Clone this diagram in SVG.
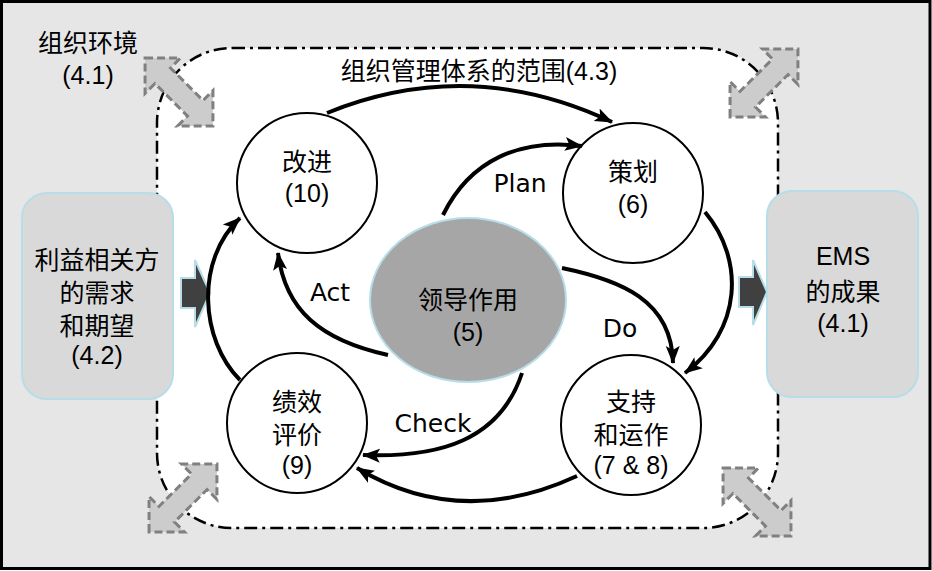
<svg xmlns="http://www.w3.org/2000/svg" width="932" height="571" viewBox="0 0 932 571">
<style>
text{font-family:"Liberation Sans","Noto Sans CJK SC",sans-serif;font-size:25px;fill:#000;text-anchor:middle;dominant-baseline:central}
.pdca{font-family:"DejaVu Sans",sans-serif;font-size:25px}
.node{fill:#fff;stroke:#000;stroke-width:2}
.side{fill:#d9d9d9;stroke:#b7dde8;stroke-width:2}
.conn{fill:none;stroke:#000;stroke-width:4}
.carrow{fill:#cccccc;stroke:#808080;stroke-width:3;stroke-dasharray:8 4}
.block{fill:#404040;stroke:#b7dde8;stroke-width:2}
</style>
<defs>
<marker id="ah" markerUnits="userSpaceOnUse" markerWidth="20" markerHeight="16" refX="17" refY="8" orient="auto">
<path d="M0,1 L18,8 L0,15 L4,8 Z" fill="#000"/>
</marker>
<polygon id="dbl" points="-48,0 -23,-25 -23,-11 23,-11 23,-25 48,0 23,25 23,11 -23,11 -23,25"/>
</defs>
<g id="background">
<rect x="1.5" y="1.5" width="928.5" height="567" fill="#e6e6e6" stroke="#000" stroke-width="3"/>
</g>
<g id="scope">
<rect x="157" y="48" width="621" height="480" rx="75" ry="75" fill="#fff" stroke="#000" stroke-width="2.5" stroke-dasharray="13 5 3 5"/>
<text x="479" y="71">组织管理体系的范围(4.3)</text>
</g>
<g id="context-label">
<text x="88" y="43">组织环境</text>
<text x="88" y="75">(4.1)</text>
</g>
<g id="corner-arrows">
<use href="#dbl" class="carrow" transform="translate(179,92) rotate(45)"/>
<use href="#dbl" class="carrow" transform="translate(764,83) rotate(-45)"/>
<use href="#dbl" class="carrow" transform="translate(183,498) rotate(-45)"/>
<use href="#dbl" class="carrow" transform="translate(757,502) rotate(45)"/>
</g>
<g id="stakeholders">
<rect class="side" x="22" y="193" width="151" height="206" rx="25" ry="25"/>
<text x="97" y="260">利益相关方</text>
<text x="97" y="293">的需求</text>
<text x="97" y="326">和期望</text>
<text x="97" y="355">(4.2)</text>
</g>
<g id="results">
<rect class="side" x="767" y="191" width="151" height="206" rx="25" ry="25"/>
<text x="843" y="256">EMS</text>
<text x="843" y="292">的成果</text>
<text x="843" y="323">(4.1)</text>
</g>
<g id="block-arrows">
<polygon class="block" points="181,278 195,278 195,260 210,293 195,327 195,308 181,308"/>
<polygon class="block" points="739,277 753,277 753,260 767,292 753,325 753,307 739,307"/>
</g>
<g id="improve">
<circle class="node" cx="307" cy="183" r="70"/>
<text x="307" y="162">改进</text>
<text x="307" y="193">(10)</text>
</g>
<g id="plan">
<circle class="node" cx="633" cy="193" r="70"/>
<text x="633" y="172">策划</text>
<text x="633" y="204">(6)</text>
</g>
<g id="leadership">
<ellipse cx="468" cy="300" rx="98" ry="82" fill="#a6a6a6" stroke="#b7dde8" stroke-width="2"/>
<text x="468" y="300">领导作用</text>
<text x="468" y="332">(5)</text>
</g>
<g id="evaluation">
<circle class="node" cx="297" cy="423" r="70"/>
<text x="297" y="402">绩效</text>
<text x="297" y="435">评价</text>
<text x="297" y="465">(9)</text>
</g>
<g id="support">
<circle class="node" cx="631" cy="425" r="70"/>
<text x="631" y="402">支持</text>
<text x="631" y="435">和运作</text>
<text x="631" y="465">(7 &amp; 8)</text>
</g>
<g id="connectors">
<path class="conn" marker-end="url(#ah)" d="M327,113 Q470,55 612,122"/>
<path class="conn" marker-end="url(#ah)" d="M443,215 C470,160 520,138 582,146"/>
<path class="conn" marker-end="url(#ah)" d="M562,268 C620,280 672,300 673,363"/>
<path class="conn" marker-end="url(#ah)" d="M705,212 C745,260 742,330 685,373"/>
<path class="conn" marker-end="url(#ah)" d="M577,476 Q460,530 357,468"/>
<path class="conn" marker-end="url(#ah)" d="M522,373 C500,440 440,458 363,455"/>
<path class="conn" marker-end="url(#ah)" d="M388,355 C320,340 285,310 278,253"/>
<path class="conn" marker-end="url(#ah)" d="M240,380 C200,340 195,260 240,218"/>
<text class="pdca" x="520" y="183">Plan</text>
<text class="pdca" x="330" y="292">Act</text>
<text class="pdca" x="620" y="328">Do</text>
<text class="pdca" x="433" y="423">Check</text>
</g>
</svg>
